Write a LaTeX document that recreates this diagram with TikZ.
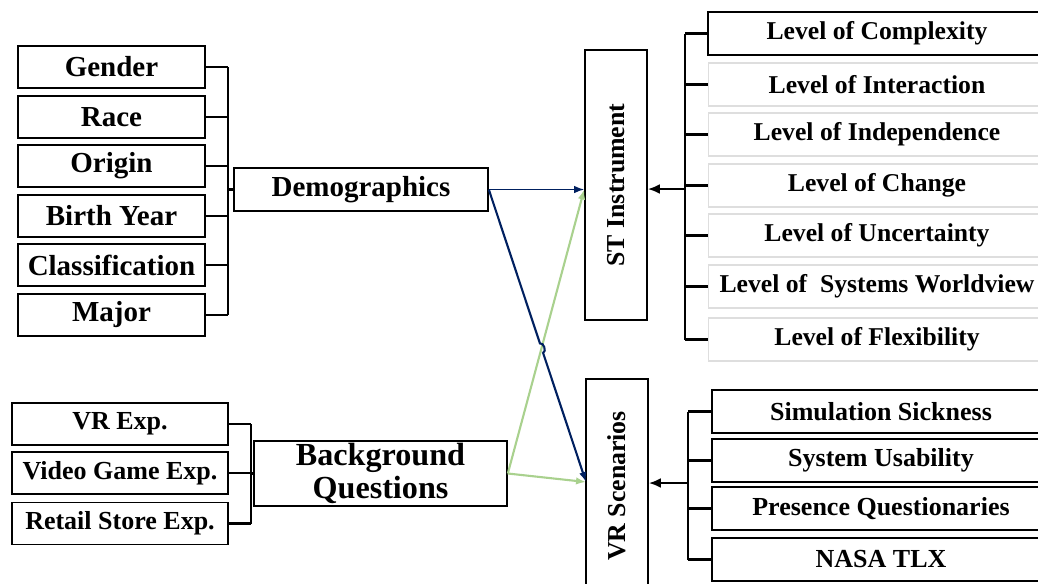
\documentclass[tikz,border=0pt]{standalone}
\usepackage{fontspec}
\setmainfont{Liberation Serif}
\usetikzlibrary{arrows.meta,positioning,calc,intersections}
\definecolor{navyln}{RGB}{0,32,96}
\definecolor{greenln}{RGB}{169,209,142}
\tikzset{
  box/.style={draw,line width=0.95pt,inner sep=0pt,font=\bfseries},
  item/.style={box,minimum width=3.74cm,minimum height=0.84cm,font=\bfseries\fontsize{16.5}{18}\selectfont},
  bgitem/.style={box,minimum width=4.32cm,minimum height=0.84cm,font=\bfseries\fontsize{14.8}{16}\selectfont},
  lvl/.style={box,draw=black!13,line width=0.6pt,minimum width=6.76cm,minimum height=0.86cm,font=\bfseries\fontsize{14.6}{16}\selectfont},
  vritem/.style={box,minimum width=6.76cm,minimum height=0.86cm,font=\bfseries\fontsize{14.8}{16}\selectfont},
  vbox/.style={box,rotate=90,minimum height=1.24cm,font=\bfseries\fontsize{14.7}{16}\selectfont},
  brk/.style={line width=1.3pt},
  feed/.style={-{Latex[length=2.4mm,width=2mm]},line width=1.3pt},
  dlink/.style={-{Latex[length=2mm]},navyln,line width=1.2pt},
  glink/.style={-{Latex[length=2mm]},greenln,line width=1.2pt}
}

\begin{document}
\begin{tikzpicture}[x=0.02cm,y=-0.02cm]
  \useasboundingbox (0,0) rectangle (1038,583);
  \clip (0,0) rectangle (1038,583);
  % demographics branch
  \node[item] (gender) at (111.5,67) {Gender};
  \node[item] (race) at (111.5,117) {Race};
  \node[item] (origin) at (111.5,166) {Origin};
  \node[item] (birth) at (111.5,216) {Birth Year};
  \node[item] (class) at (111.5,265) {Classification};
  \node[item] (major) at (111.5,315) {Major};
  \node[box,minimum width=5.08cm,minimum height=0.86cm,font=\bfseries\fontsize{16.5}{18}\selectfont] (demo) at (361,189.5) {Demographics};
  \coordinate (dbar) at (228,0);
  \foreach \n in {gender,race,origin,birth,class,major}
    \draw[brk] (\n.east) -- (\n.east -| dbar);
  \draw[brk] (gender.east -| dbar) -- (major.east -| dbar);
  \draw[brk] (dbar |- demo.west) -- (demo.west);
  % background branch
  \node[bgitem] (vrexp) at (120,424) {VR Exp.};
  \node[bgitem] (vgexp) at (120,473) {Video Game Exp.};
  \node[bgitem] (rsexp) at (120,523.5) {Retail Store Exp.};
  \node[box,minimum width=5.06cm,minimum height=1.3cm,align=center,font=\bfseries\fontsize{18.3}{18.7}\selectfont] (bgq) at (380.5,473.5) {Background\\Questions};
  \coordinate (bbar) at (251,0);
  \foreach \n in {vrexp,vgexp,rsexp}
    \draw[brk] (\n.east) -- (\n.east -| bbar);
  \draw[brk] (vrexp.east -| bbar) -- (rsexp.east -| bbar);
  \draw[brk] (bbar |- bgq.west) -- (bgq.west);
  % instruments
  \node[vbox,minimum width=5.4cm] (st) at (616,185) {ST Instrument};
  \node[vbox,minimum width=4.28cm] (vr) at (617,486) {VR Scenarios};
  % ST levels
  \node[lvl,draw=black,line width=0.95pt] (l1) at (877,33.5) {Level of Complexity};
  \node[lvl] (l2) at (877,84.5) {Level of Interaction};
  \node[lvl] (l3) at (877,134.5) {Level of Independence};
  \node[lvl] (l4) at (877,185.5) {Level of Change};
  \node[lvl] (l5) at (877,235.5) {Level of Uncertainty};
  \node[lvl] (l6) at (877,286.5) {Level of~ Systems Worldview};
  \node[lvl] (l7) at (877,339.5) {Level of Flexibility};
  \coordinate (lbar) at (685,0);
  \foreach \n in {l1,l2,l3,l4,l5,l6,l7}
    \draw[brk] (\n.west) -- (\n.west -| lbar);
  \draw[brk] (l1.west -| lbar) -- (l7.west -| lbar);
  \coordinate (lout) at (685,189);
  \draw[feed] (lout) -- (st.south |- lout);
  % VR measures
  \node[vritem] (sick) at (881,411.5) {Simulation Sickness};
  \node[vritem] (usab) at (881,460.5) {System Usability};
  \node[vritem] (pres) at (881,508.5) {Presence Questionaries};
  \node[vritem] (tlx) at (881,559.5) {NASA TLX};
  \coordinate (vbar) at (688,0);
  \foreach \n in {sick,usab,pres,tlx}
    \draw[brk] (\n.west) -- (\n.west -| vbar);
  \draw[brk] (sick.west -| vbar) -- (tlx.west -| vbar);
  \coordinate (vout) at (688,483);
  \draw[feed] (vout) -- (vr.south |- vout);
  % links to instruments
  \coordinate (stin) at (st.north |- demo.east);
  \coordinate (vrin) at (586,482);
  \draw[dlink,line width=0.8pt] (demo.east) -- (stin);
  \draw[glink] (bgq.east) -- (stin);
  \draw[glink] (bgq.east) -- (vrin);
  \path[name path=navyp] (demo.east) -- (vrin);
  \path[name path=greenp] (bgq.east) -- (stin);
  \path[name intersections={of=navyp and greenp,by=cr}];
  \coordinate (h1) at ($(cr)!0.1cm!(demo.east)$);
  \coordinate (h2) at ($(cr)!0.1cm!(vrin)$);
  \draw[dlink] (demo.east) -- (h1) to[bend left=90] (h2) -- (vrin);
\end{tikzpicture}
\end{document}
